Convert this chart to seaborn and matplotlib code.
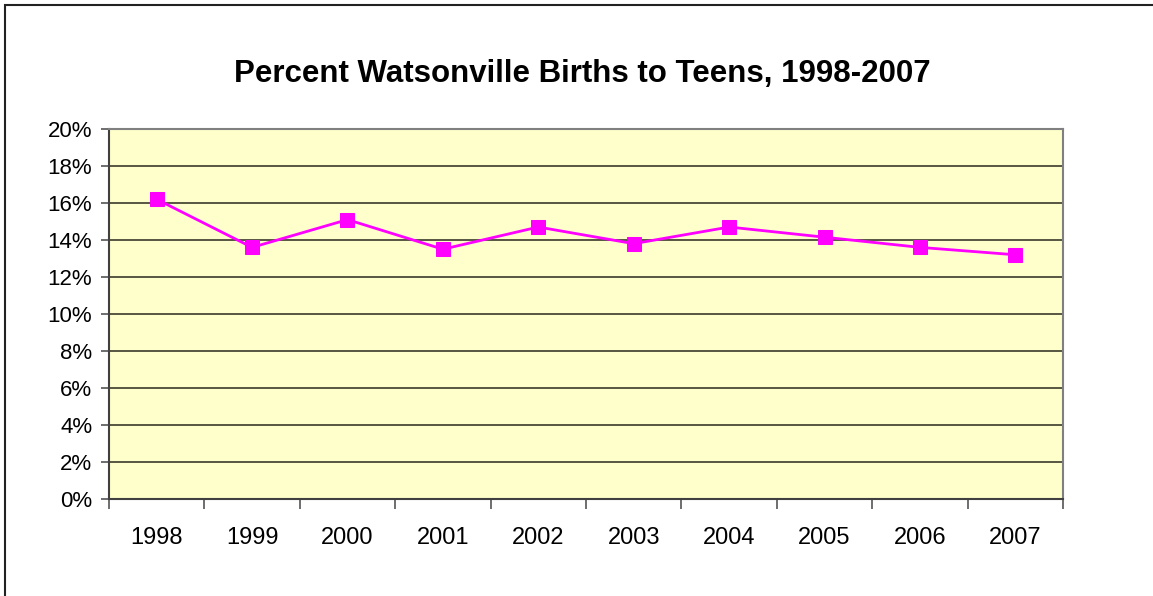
import numpy as np
import pandas as pd
import matplotlib
matplotlib.use("Agg")
import matplotlib.pyplot as plt
import matplotlib.patches as mpatches
from matplotlib.ticker import FixedLocator, PercentFormatter
import seaborn as sns

# -------------------------------
# Data
# -------------------------------
years = ["1998", "1999", "2000", "2001", "2002", "2003", "2004", "2005", "2006", "2007"]
teen_pct = [16.2, 13.6, 15.1, 13.5, 14.7, 13.8, 14.7, 14.15, 13.6, 13.2]
y_ticks = [0, 2, 4, 6, 8, 10, 12, 14, 16, 18, 20]

df = pd.DataFrame({"pos": np.arange(len(years)), "pct": teen_pct})

# -------------------------------
# Style
# -------------------------------
sns.set_style("white")
plt.rcParams["font.family"] = ["Liberation Sans", "DejaVu Sans"]
plt.rcParams["text.color"] = "black"
plt.rcParams["xtick.labelcolor"] = "black"
plt.rcParams["ytick.labelcolor"] = "black"

fig = plt.figure(figsize=(11.53, 5.96), dpi=100)
ax = fig.add_axes([0.0945, 0.1628, 0.9220 - 0.0945, 0.7836 - 0.1628])
ax.set_facecolor("#FFFFCC")

# gridlines under the line
ax.set_axisbelow(True)
ax.yaxis.grid(True, color="#3a3a2a", linewidth=1.2)
ax.xaxis.grid(False)

sns.lineplot(
    data=df, x="pos", y="pct", ax=ax,
    color="#FF00FF", linewidth=2, marker="s", markersize=10,
    markeredgecolor="#FF00FF", zorder=3
)

# -------------------------------
# Axes
# -------------------------------
ax.set_xlim(-0.5, len(years) - 0.5)
ax.set_ylim(0, 20)
ax.set_yticks(y_ticks)
ax.yaxis.set_major_formatter(PercentFormatter(decimals=0))
ax.tick_params(axis="y", which="major", direction="out", length=6, width=1.2,
               color="#555555", labelsize=16, pad=6, left=True)

ax.xaxis.set_major_locator(FixedLocator(np.arange(-0.5, len(years), 1.0)))
ax.xaxis.set_minor_locator(FixedLocator(np.arange(len(years))))
ax.set_xticklabels([], minor=False)
ax.set_xticklabels(years, minor=True)
ax.tick_params(axis="x", which="major", direction="out", length=7, width=1.2,
               color="#555555", bottom=True)
ax.tick_params(axis="x", which="minor", length=0, labelsize=17, pad=20)

ax.set_xlabel("")
ax.set_ylabel("")

for side in ["top", "right"]:
    ax.spines[side].set_color("#808080")
    ax.spines[side].set_linewidth(1.5)
for side in ["left", "bottom"]:
    ax.spines[side].set_color("#404040")
    ax.spines[side].set_linewidth(1.5)

# -------------------------------
# Title and outer frame
# -------------------------------
fig.text(0.505, 1 - 82 / 596, "Percent Watsonville Births to Teens, 1998-2007",
         ha="center", va="baseline", fontsize=22.5, fontweight="bold")

frame = mpatches.Rectangle((5 / 1153, -0.01), 1.02, 1 - 5 / 596 + 0.01,
                           transform=fig.transFigure, fill=False,
                           edgecolor="#222222", linewidth=1.5, clip_on=False)
fig.patches.append(frame)

fig.savefig("out.png", dpi=100)
